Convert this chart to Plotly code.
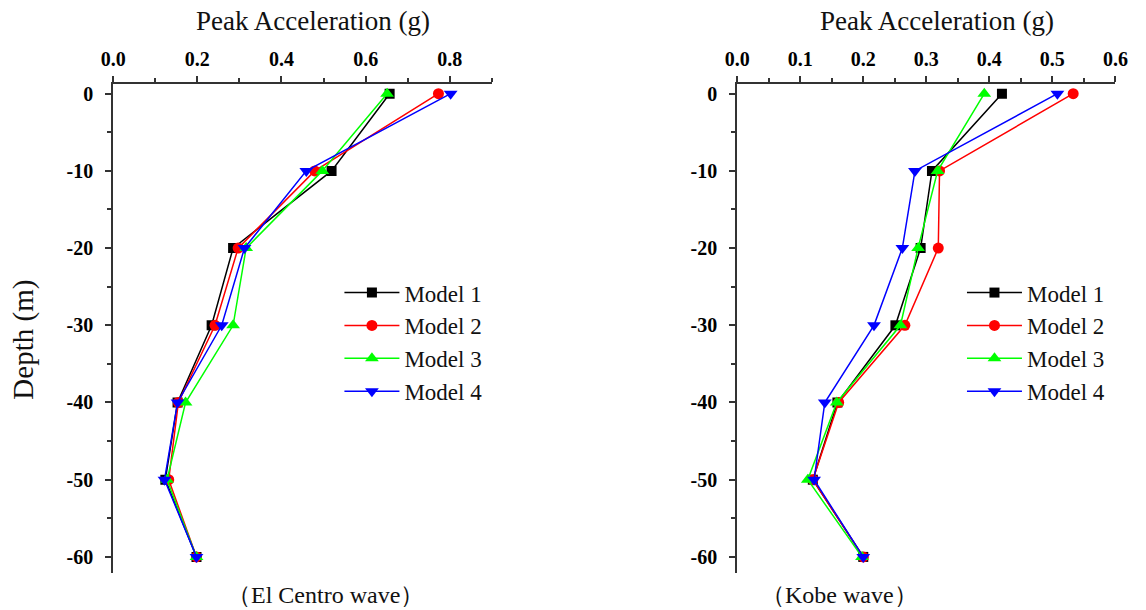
import plotly.graph_objects as go

depth = [0, -10, -20, -30, -40, -50, -60]
models = ["Model 1", "Model 2", "Model 3", "Model 4"]

# El Centro wave (left panel)
elc_m1 = [0.657, 0.519, 0.285, 0.234, 0.153, 0.124, 0.198]
elc_m2 = [0.773, 0.479, 0.297, 0.242, 0.155, 0.132, 0.198]
elc_m3 = [0.651, 0.497, 0.316, 0.285, 0.172, 0.128, 0.198]
elc_m4 = [0.802, 0.459, 0.312, 0.258, 0.153, 0.122, 0.198]

# Kobe wave (right panel)
kobe_m1 = [0.420, 0.309, 0.291, 0.251, 0.159, 0.120, 0.200]
kobe_m2 = [0.533, 0.321, 0.319, 0.266, 0.161, 0.120, 0.200]
kobe_m3 = [0.392, 0.318, 0.287, 0.259, 0.158, 0.112, 0.198]
kobe_m4 = [0.508, 0.282, 0.262, 0.217, 0.139, 0.122, 0.200]

y_tickvals = [0, -10, -20, -30, -40, -50, -60]
y_ticktext = ["0", "-10", "-20", "-30", "-40", "-50", "-60"]
x1_tickvals = [0.0, 0.2, 0.4, 0.6, 0.8]
x1_ticktext = ["0.0", "0.2", "0.4", "0.6", "0.8"]
x2_tickvals = [0.0, 0.1, 0.2, 0.3, 0.4, 0.5, 0.6]
x2_ticktext = ["0.0", "0.1", "0.2", "0.3", "0.4", "0.5", "0.6"]

colors = ["#000000", "#FF0000", "#00FF00", "#0000FF"]
symbols = ["square", "circle", "triangle-up", "triangle-down"]
msizes = [10, 11, 12, 12]

FONT = "Liberation Serif"
W, H = 1146, 610
TXT = "#111111"
AX = "#333333"


def bold(lst):
    return ["<b>" + t + "</b>" for t in lst]


fig = go.Figure()

left_data = [elc_m1, elc_m2, elc_m3, elc_m4]
right_data = [kobe_m1, kobe_m2, kobe_m3, kobe_m4]

for i, name in enumerate(models):
    fig.add_trace(go.Scatter(
        x=left_data[i], y=depth, mode="lines+markers", name=name,
        line=dict(color=colors[i], width=1.5),
        marker=dict(symbol=symbols[i], size=msizes[i], color=colors[i]),
        xaxis="x", yaxis="y", legend="legend"))
for i, name in enumerate(models):
    fig.add_trace(go.Scatter(
        x=right_data[i], y=depth, mode="lines+markers", name=name,
        line=dict(color=colors[i], width=1.5),
        marker=dict(symbol=symbols[i], size=msizes[i], color=colors[i]),
        xaxis="x2", yaxis="y2", legend="legend2"))


def px_x(p):
    return p / W


def px_y(p):
    return (H - p) / H


ydom = [px_y(573), px_y(82.7)]
TICKFONT = dict(family=FONT, size=20, color="#000000", weight="bold")

common_x = dict(
    side="top", showline=True, linecolor=AX, linewidth=2,
    ticks="outside", ticklen=6, tickwidth=2, tickcolor=AX,
    showgrid=False, zeroline=False, ticklabelstandoff=2,
    tickfont=TICKFONT,
)
common_y = dict(
    showline=True, linecolor=AX, linewidth=2,
    ticks="outside", ticklen=6, tickwidth=2, tickcolor=AX,
    showgrid=False, zeroline=False, range=[-62.1, 1.2],
    tickvals=y_tickvals, ticktext=bold(y_ticktext), ticklabelstandoff=8,
    tickfont=TICKFONT,
    minor=dict(ticks="outside", ticklen=4, tickwidth=2, tickcolor=AX, dtick=5),
    domain=ydom,
)

fig.update_layout(
    width=W, height=H, paper_bgcolor="white", plot_bgcolor="white",
    margin=dict(l=0, r=0, t=0, b=0),
    xaxis=dict(common_x, domain=[px_x(102.5), px_x(490)], range=[0, 0.9], anchor="y",
               tickvals=x1_tickvals, ticktext=bold(x1_ticktext),
               minor=dict(ticks="outside", ticklen=4, tickwidth=2, tickcolor=AX, dtick=0.1)),
    yaxis=dict(common_y, anchor="x"),
    xaxis2=dict(common_x, domain=[px_x(741), px_x(1128)], range=[0, 0.6], anchor="y2",
                tickvals=x2_tickvals, ticktext=bold(x2_ticktext),
                minor=dict(ticks="outside", ticklen=4, tickwidth=2, tickcolor=AX, dtick=0.05)),
    yaxis2=dict(common_y, anchor="x2"),
    legend=dict(x=px_x(334), y=px_y(270), xanchor="left", yanchor="top",
                font=dict(family=FONT, size=23, color=TXT), bgcolor="rgba(0,0,0,0)",
                itemwidth=55, tracegroupgap=0),
    legend2=dict(x=px_x(971), y=px_y(270), xanchor="left", yanchor="top",
                 font=dict(family=FONT, size=23, color=TXT), bgcolor="rgba(0,0,0,0)",
                 itemwidth=55, tracegroupgap=0),
    showlegend=True,
    annotations=[
        dict(text="Peak Acceleration (g)", x=px_x(307), y=px_y(19), xref="paper", yref="paper",
             xanchor="center", yanchor="middle", showarrow=False,
             font=dict(family=FONT, size=27, color=TXT)),
        dict(text="Peak Acceleration (g)", x=px_x(945), y=px_y(19), xref="paper", yref="paper",
             xanchor="center", yanchor="middle", showarrow=False,
             font=dict(family=FONT, size=27, color=TXT)),
        dict(text="Depth (m)", x=px_x(11), y=px_y(339), xref="paper", yref="paper",
             xanchor="center", yanchor="middle", showarrow=False, textangle=-90,
             font=dict(family=FONT, size=29, color=TXT)),
        dict(text="（El Centro wave）", x=px_x(320), y=px_y(595), xref="paper", yref="paper",
             xanchor="center", yanchor="middle", showarrow=False,
             font=dict(family=FONT, size=24, color=TXT)),
        dict(text="（Kobe wave）", x=px_x(846), y=px_y(595), xref="paper", yref="paper",
             xanchor="center", yanchor="middle", showarrow=False,
             font=dict(family=FONT, size=24, color=TXT)),
    ],
)

fig.write_html("out.html")
